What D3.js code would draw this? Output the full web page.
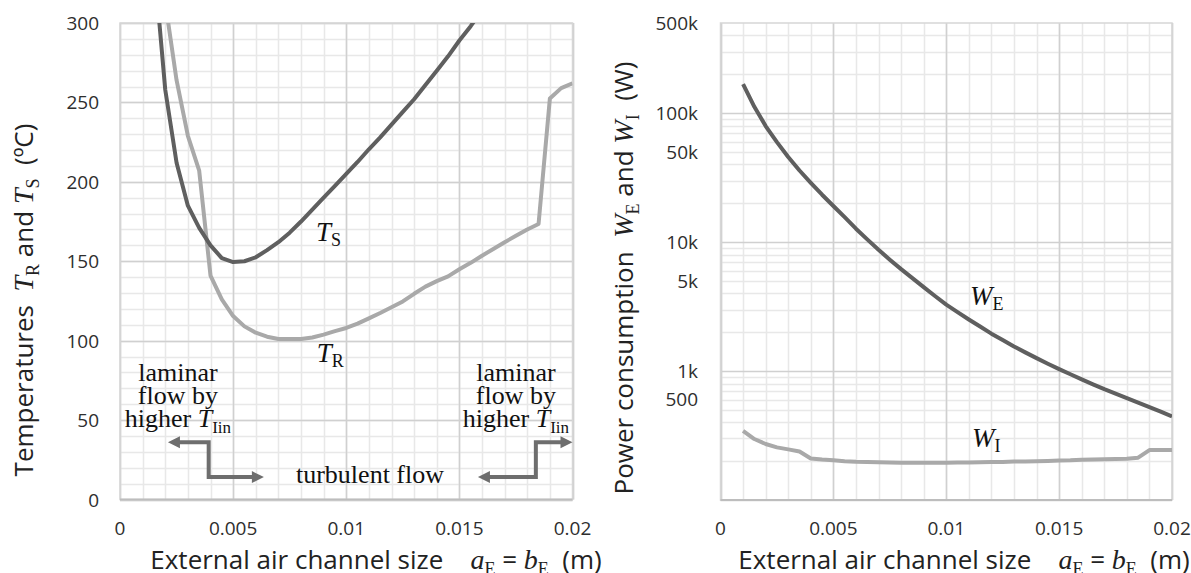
<!DOCTYPE html>
<html><head><meta charset="utf-8">
<script src="https://cdn.jsdelivr.net/npm/d3@7"></script>
<style>
body{margin:0;background:#fff;}
svg{display:block;}
text{white-space:pre;}
</style></head><body>
<svg id="chart" width="1191" height="573"></svg>
<script>
// Channel size a_E = b_E (m)
const channelSize = [0.001,0.0015,0.002,0.0025,0.003,0.0035,0.004,0.0045,0.005,0.0055,0.006,0.0065,0.007,0.0075,0.008,0.0085,0.009,0.0095,0.01,0.0105,0.011,0.0115,0.012,0.0125,0.013,0.0135,0.014,0.0145,0.015,0.0155,0.016,0.0165,0.017,0.0175,0.018,0.0185,0.019,0.0195,0.02];

// Surface temperature T_S (°C)
const tempS = [null,339,258,212,185,171,160,152,149.5,150,152.5,157,162,168,175,182.5,190,197.5,205,212.5,220.5,228,236,244,252,261,270,279,289,298,308,null,null,null,null,null,null,null,null];
// Room-side temperature T_R (°C)
const tempR = [null,null,313,264,229,207,141,126,115.5,109,105,102.5,101,101,101,102,103.8,106,108,110.7,114,117.4,121,124.7,129.5,134,137.5,140.5,145,149,153.5,157.7,162,166,170,173.5,252.5,259,262];

// Power consumption W_E and W_I (W)
const powerE = [168000,112000,79400,59600,45700,35900,28800,23300,19050,15600,12700,10500,8710,7310,6170,5250,4470,3820,3270,2864,2512,2213,1950,1738,1549,1396,1259,1140,1035,944,861,789,724,668,617,569,525,485,445];
const powerI = [344,297,272,256,247,238,210,206,203,200,198,197,196,195,194.5,194.5,194.5,194.5,194.5,195,195.5,196,197,197.5,198.5,199,200,201,202,203,205,206,207,208,209,213,244,244,244];

// Axis ticks and labels
const xTicks = [0,0.005,0.01,0.015,0.02];
const xTickLabels = ["0","0.005","0.01","0.015","0.02"];
const tempTicks = [0,50,100,150,200,250,300];
const powerTicks = [500000,100000,50000,10000,5000,1000,500];
const powerTickLabels = ["500k","100k","50k","10k","5k","1k","500"];
const decades = [100,1000,10000,100000];
const decadeSteps = [2,3,4,5,6,7,8,9];

const SANS = "'Open Sans', sans-serif";
const SERIF = "'Liberation Serif', 'Times New Roman', serif";
const DARK = "#5f5f5f", LIGHT = "#a9a9a9";
const TITLE_SIZE = 26, TITLE_SYM = 28, TITLE_SUB = 18;
const LINE_W = 4;

const svg = d3.select("#chart");

const xL = d3.scaleLinear().domain([0,0.02]).range([120,572.5]);
const yL = d3.scaleLinear().domain([0,300]).range([499.5,23]);
const xR = d3.scaleLinear().domain([0,0.02]).range([720.5,1172]);
const yR = d3.scaleLog().domain([100,500000]).range([500,23]);

const minorX = d3.range(0,0.02001,0.001);

function grid(g, xs, ys, xMinor, xMajor, yMinor, yMajor){
  const [x0,x1] = xs.range(), [y0,y1] = ys.range();
  g.selectAll(".vminor").data(xMinor).join("line")
    .attr("x1",d=>Math.round(xs(d))+0.5).attr("x2",d=>Math.round(xs(d))+0.5)
    .attr("y1",y1).attr("y2",y0).attr("stroke","#e8e8e8").attr("stroke-width",1.5);
  g.selectAll(".hminor").data(yMinor).join("line")
    .attr("y1",d=>Math.round(ys(d))+0.5).attr("y2",d=>Math.round(ys(d))+0.5)
    .attr("x1",x0).attr("x2",x1).attr("stroke","#e8e8e8").attr("stroke-width",1.5);
  g.selectAll(".vmajor").data(xMajor).join("line")
    .attr("x1",d=>Math.round(xs(d))+0.5).attr("x2",d=>Math.round(xs(d))+0.5)
    .attr("y1",y1).attr("y2",y0).attr("stroke","#d0d0d0").attr("stroke-width",1.5);
  g.selectAll(".hmajor").data(yMajor).join("line")
    .attr("y1",d=>Math.round(ys(d))+0.5).attr("y2",d=>Math.round(ys(d))+0.5)
    .attr("x1",x0).attr("x2",x1).attr("stroke","#d0d0d0").attr("stroke-width",1.5);
  g.append("rect").attr("x",x0).attr("y",y1).attr("width",x1-x0).attr("height",y0-y1)
    .attr("fill","none").attr("stroke","#d6d6d6").attr("stroke-width",1.5);
  g.append("line").attr("x1",x0).attr("x2",x1).attr("y1",y0).attr("y2",y0)
    .attr("stroke","#bdbdbd").attr("stroke-width",2);
}

function xAxisLabels(g, xs){
  g.selectAll(".xt").data(xTicks).join("text")
    .attr("x",d=>xs(d)).attr("y",535).attr("text-anchor","middle")
    .attr("font-family",SANS).attr("font-size",19).attr("fill","#2e2e2e")
    .text((d,i)=>xTickLabels[i]);
}

function xTitle(g, cx){
  const t = g.append("text").attr("x",cx).attr("y",569).attr("text-anchor","middle")
    .attr("font-family",SANS).attr("font-size",TITLE_SIZE).attr("fill","#222");
  t.append("tspan").text("External air channel size    ");
  t.append("tspan").attr("font-family",SERIF).attr("font-style","italic").attr("font-size",TITLE_SYM).text("a");
  t.append("tspan").attr("font-family",SERIF).attr("font-size",TITLE_SUB).attr("dy",6).text("E");
  t.append("tspan").attr("dy",-6).text(" = ");
  t.append("tspan").attr("font-family",SERIF).attr("font-style","italic").attr("font-size",TITLE_SYM).text("b");
  t.append("tspan").attr("font-family",SERIF).attr("font-size",TITLE_SUB).attr("dy",6).text("E");
  t.append("tspan").attr("dy",-6).text("  (m)");
}

function yTitle(g, x, cy, lead, sym, subA, subB, unit){
  const t = g.append("text").attr("transform",`translate(${x},${cy}) rotate(-90)`)
    .attr("text-anchor","middle").attr("font-family",SANS).attr("font-size",TITLE_SIZE).attr("fill","#222");
  t.append("tspan").text(lead + "  ");
  t.append("tspan").attr("font-family",SERIF).attr("font-style","italic").attr("font-size",TITLE_SYM).text(sym);
  t.append("tspan").attr("font-family",SERIF).attr("font-size",TITLE_SUB).attr("dy",6).text(subA);
  t.append("tspan").attr("dy",-6).text(" and ");
  t.append("tspan").attr("font-family",SERIF).attr("font-style","italic").attr("font-size",TITLE_SYM).text(sym);
  t.append("tspan").attr("font-family",SERIF).attr("font-size",TITLE_SUB).attr("dy",6).text(subB);
  t.append("tspan").attr("dy",-6).text("  " + unit);
}

function symbolLabel(g, x, y, main, sub){
  const t = g.append("text").attr("x",x).attr("y",y).attr("font-family",SERIF).attr("fill","#111");
  t.append("tspan").attr("font-style","italic").attr("font-size",27).text(main);
  t.append("tspan").attr("font-size",18).attr("dy",5).text(sub);
}

// ---------- Left panel: temperatures ----------
const gL = svg.append("g");
grid(gL, xL, yL, minorX, xTicks, d3.range(0,301,10), tempTicks);

gL.selectAll(".yt").data(tempTicks).join("text")
  .attr("x",99).attr("y",d=>yL(d)+7).attr("text-anchor","end")
  .attr("font-family",SANS).attr("font-size",19).attr("fill","#2e2e2e").text(d=>d);
xAxisLabels(gL, xL);
xTitle(gL, 376);
yTitle(gL, 33, 300, "Temperatures", "T", "R", "S", "(ºC)");

svg.append("clipPath").attr("id","clipL").append("rect")
  .attr("x",120).attr("y",23).attr("width",452.5).attr("height",476.5);
svg.append("clipPath").attr("id","clipR").append("rect")
  .attr("x",720.5).attr("y",23).attr("width",451.5).attr("height",477);

const lineL = vals => d3.line()
  .defined((d,i)=>vals[i]!==null)
  .x(d=>xL(d)).y((d,i)=>yL(vals[i]))(channelSize);

gL.append("path").attr("d",lineL(tempR)).attr("clip-path","url(#clipL)")
  .attr("fill","none").attr("stroke",LIGHT).attr("stroke-width",LINE_W).attr("stroke-linejoin","round");
gL.append("path").attr("d",lineL(tempS)).attr("clip-path","url(#clipL)")
  .attr("fill","none").attr("stroke",DARK).attr("stroke-width",LINE_W).attr("stroke-linejoin","round");

symbolLabel(gL, xL(0.00866), yL(163), "T", "S");
symbolLabel(gL, xL(0.0087), yL(86.4), "T", "R");

// Flow-regime notes
function flowNote(g, cx, baselines){
  ["laminar","flow by"].forEach((s,i)=>{
    g.append("text").attr("x",cx).attr("y",baselines[i]).attr("text-anchor","middle")
      .attr("font-family",SERIF).attr("font-size",26).attr("fill","#111").text(s);
  });
  const t = g.append("text").attr("x",cx).attr("y",baselines[2]).attr("text-anchor","middle")
    .attr("font-family",SERIF).attr("font-size",26).attr("fill","#111");
  t.append("tspan").text("higher ");
  t.append("tspan").attr("font-style","italic").text("T");
  t.append("tspan").attr("font-size",17).attr("dy",6).text("Iin");
}
flowNote(gL, xL(0.00256), [yL(74.7), yL(60.1), yL(45.4)]);
flowNote(gL, xL(0.0175), [yL(74.7), yL(60.1), yL(45.4)]);

gL.append("text").attr("x",xL(0.01105)).attr("y",yL(10.4)).attr("text-anchor","middle")
  .attr("font-family",SERIF).attr("font-size",26).attr("fill","#111").text("turbulent flow");

const ARROW = "#6e6e6e";
function arrowHead(g, x, y, dir){
  const L = 12, W = 6;
  g.append("path").attr("d",`M${x},${y} L${x-dir*L},${y-W} L${x-dir*L},${y+W} Z`).attr("fill",ARROW);
}
function stepArrow(g, pts, startDir, endDir){
  const p = pts.map(([a,b])=>[xL(a),yL(b)]);
  const q = p.map(d=>d.slice());
  q[0][0] -= startDir*10; q[q.length-1][0] -= endDir*10;
  g.append("path").attr("d",d3.line()(q)).attr("fill","none").attr("stroke",ARROW)
    .attr("stroke-width",4).attr("stroke-linejoin","miter");
  arrowHead(g, p[0][0], p[0][1], startDir);
  arrowHead(g, p[p.length-1][0], p[p.length-1][1], endDir);
}
stepArrow(gL, [[0.00212,36.1],[0.00392,36.1],[0.00392,14.1],[0.00636,14.1]], -1, 1);
stepArrow(gL, [[0.01582,14.1],[0.01838,14.1],[0.01838,36.1],[0.02,36.1]], -1, 1);

// ---------- Right panel: power consumption ----------
const gR = svg.append("g");
const logMinor = [];
decades.forEach(d=>decadeSteps.forEach(k=>{ if (k*d < 500000) logMinor.push(k*d); }));
grid(gR, xR, yR, minorX, xTicks, logMinor, decades);

gR.selectAll(".yt").data(powerTicks).join("text")
  .attr("x",698).attr("y",d=>yR(d)+7+(d===500?-11:0)).attr("text-anchor","end")
  .attr("font-family",SANS).attr("font-size",19).attr("fill","#2e2e2e")
  .text((d,i)=>powerTickLabels[i]);
xAxisLabels(gR, xR);
xTitle(gR, 964);
yTitle(gR, 633, 278, "Power consumption", "W", "E", "I", "(W)");

const lineR = vals => d3.line().x(d=>xR(d)).y((d,i)=>yR(vals[i]))(channelSize);
gR.append("path").attr("d",lineR(powerI)).attr("clip-path","url(#clipR)")
  .attr("fill","none").attr("stroke",LIGHT).attr("stroke-width",LINE_W).attr("stroke-linejoin","round");
gR.append("path").attr("d",lineR(powerE)).attr("clip-path","url(#clipR)")
  .attr("fill","none").attr("stroke",DARK).attr("stroke-width",LINE_W).attr("stroke-linejoin","round");

symbolLabel(gR, xR(0.01105), yR(3250), "W", "E");
symbolLabel(gR, xR(0.01114), yR(258), "W", "I");
</script>
</body></html>
